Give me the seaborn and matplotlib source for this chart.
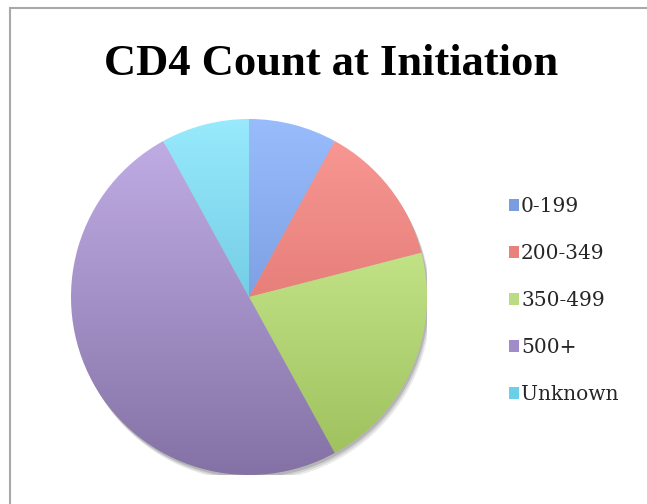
import numpy as np
import matplotlib
matplotlib.use("Agg")
import matplotlib.pyplot as plt
import seaborn as sns
from matplotlib.patches import Rectangle, Circle, Patch

sns.set_theme(style="white")
plt.rcParams['font.family'] = ['Liberation Serif', 'DejaVu Serif']

# data
labels = ['0-199', '200-349', '350-499', '500+', 'Unknown']
shares = [8, 13, 21, 50, 8]

# colours: legend swatch, gradient top, gradient bottom
legend_colors = ['#7b9de0', '#e8807c', '#bcdc84', '#a08cc8', '#6ccfe8']
top_colors = ['#98bcfc', '#fa9a96', '#d8f8a0', '#c4b0e8', '#98eafc']
bottom_colors = ['#6486cc', '#d4645e', '#9cbe5a', '#8472a6', '#52b2d0']

W, H = 647, 504
fig = plt.figure(figsize=(W / 100, H / 100), dpi=100)
fig.patch.set_facecolor('white')

# outer frame
fig.patches.append(Rectangle((10 / W, -0.1), 1.2, 1 - 8 / H + 0.1,
                             transform=fig.transFigure, fill=False,
                             edgecolor='#a8a8a8', linewidth=1.5))

cx, cy, r = 249, 297, 178
ax = fig.add_axes([(cx - r) / W, (H - cy - r) / H, 2 * r / W, 2 * r / H])
ax.set_aspect('equal')
ax.axis('off')

# soft shadow
for k, a in zip([0.035, 0.025, 0.015], [0.08, 0.10, 0.14]):
    ax.add_patch(Circle((k * 0.6, -k), 1.0, color='black', alpha=a, lw=0, zorder=0))

wedges, _ = ax.pie(shares, startangle=90, counterclock=False, radius=1,
                   wedgeprops=dict(facecolor='none', edgecolor='none'))

t = np.linspace(0, 1, 256)[:, None]
for w, c1, c2 in zip(wedges, top_colors, bottom_colors):
    a1 = np.array(matplotlib.colors.to_rgb(c1))
    a2 = np.array(matplotlib.colors.to_rgb(c2))
    grad = (1 - t)[..., None] * a1 + t[..., None] * a2
    grad = np.repeat(grad, 2, axis=1)
    im = ax.imshow(grad, extent=[-1, 1, -1, 1], origin='upper',
                   aspect='auto', zorder=2, interpolation='bilinear')
    im.set_clip_path(w)
ax.set_xlim(-1, 1)
ax.set_ylim(-1, 1)

fig.text(331 / W, 1 - 75 / H, 'CD4 Count at Initiation', ha='center',
         va='baseline', fontsize=32, fontweight='bold', color='black')

handles = [Patch(facecolor=c, edgecolor='none') for c in legend_colors]
fig.legend(handles, labels, loc='upper left',
           bbox_to_anchor=(509 / W, 1 - 197 / H), frameon=False,
           prop={'family': 'DejaVu Serif', 'size': 14.5},
           handlelength=0.5, handleheight=0.55,
           handletextpad=0.1, labelspacing=1.39, borderpad=0,
           borderaxespad=0)

fig.savefig('out.png', dpi=100, facecolor='white')
